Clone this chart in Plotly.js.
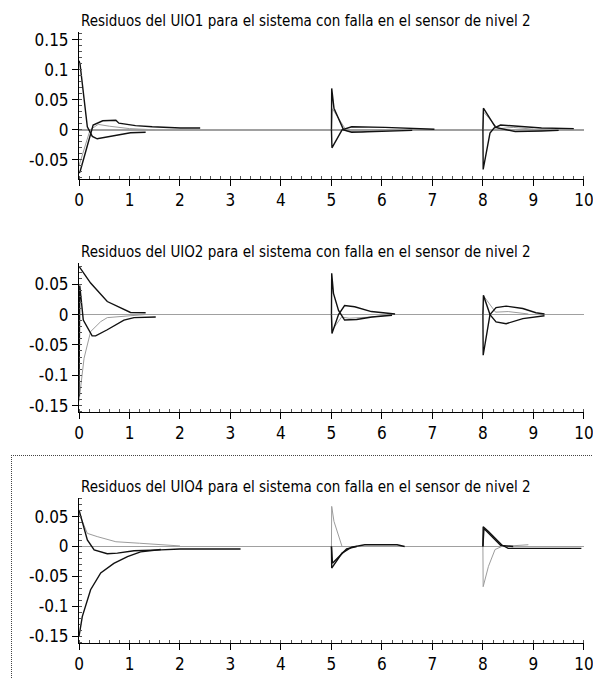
<!DOCTYPE html>
<html>
<head>
<meta charset="utf-8">
<script src="https://cdn.plot.ly/plotly-3.0.1.min.js"></script>
<style>
  html, body { margin: 0; padding: 0; background: #fff; overflow: hidden; }
  #chart { width: 593px; height: 679px; position: relative; }
  #focus { position: absolute; left: 11px; top: 455px; width: 700px; height: 400px;
           border-top: 1px dotted #444; border-left: 1px dotted #444; pointer-events: none; }
</style>
</head>
<body>
<div id="chart"></div>
<div id="focus"></div>
<script>
// ---- titles ----
const titles = [
  "Residuos del UIO1 para el sistema con falla en el sensor de nivel 2",
  "Residuos del UIO2 para el sistema con falla en el sensor de nivel 2",
  "Residuos del UIO4 para el sistema con falla en el sensor de nivel 2"
];

// ---- tick labels ----
const xTickVals = [0,1,2,3,4,5,6,7,8,9,10];
const xTickText = ["0","1","2","3","4","5","6","7","8","9","10"];
const y1TickVals = [0.15, 0.1, 0.05, 0, -0.05];
const y1TickText = ["0.15","0.1","0.05","0","-0.05"];
const y23TickVals = [0.05, 0, -0.05, -0.1, -0.15];
const y23TickText = ["0.05","0","-0.05","-0.1","-0.15"];

// ---- Panel 1 (UIO1) ----
const p1_blackA_t = [0,0.02,0.165,0.264,0.36,0.6,0.89,1.02,1.32, null, 5,5.005,5.05,5.24,5.4,5.93,6.6, null, 8,8.01,8.25,8.64,9.16,9.5];
const p1_blackA_y = [0.115,0.11,0.005,-0.011,-0.015,-0.011,-0.0066,-0.005,-0.004, null, 0,0.069,0.036,0,-0.004,-0.003,-0.001, null, 0,0.036,0.004,-0.003,-0.002,-0.001];
const p1_blackB_t = [0,0.02,0.28,0.47,0.73,0.79,1.12,1.45,2.01,2.4, null, 5,5.01,5.21,5.4,6.06,7.04, null, 8,8.005,8.14,8.22,8.35,8.77,9.16,9.8];
const p1_blackB_y = [-0.072,-0.07,0.008,0.015,0.016,0.011,0.007,0.005,0.003,0.003, null, 0,-0.03,0,0.005,0.004,0.001, null, 0,-0.066,-0.0055,0.003,0.008,0.006,0.003,0.002];
const p1_gray_t   = [0,0.22,0.38,0.6,1.0,1.5, null, 5,5.02,5.3,5.6,6.0, null, 8,8.01,8.3,8.6,9.0];
const p1_gray_y   = [-0.06,0.0,0.009,0.006,0.002,0, null, 0,0.035,-0.002,-0.004,0, null, 0,0.03,0.002,0.004,0.001];

// ---- Panel 2 (UIO2) ----
const p2_blackA_t = [0,0.23,0.56,0.89,1.02,1.32, null, 5,5.005,5.04,5.14,5.26,5.5,5.8,6.2, null, 8,8.01,8.14,8.26,8.46,8.79,9.22];
const p2_blackA_y = [0.0795,0.052,0.0215,0.0076,0.0035,0.003, null, 0,0.068,0.035,0.007,-0.009,-0.008,-0.004,-0.001, null, 0,0.032,0,-0.012,-0.015,-0.0066,-0.002];
const p2_blackB_t = [0,0.015,0.085,0.26,0.33,0.56,0.89,1.09,1.52, null, 5,5.01,5.14,5.26,5.46,5.79,6.26, null, 8,8.005,8.14,8.26,8.46,8.79,9.05,9.22];
const p2_blackB_y = [-0.135,0.048,-0.009,-0.035,-0.035,-0.025,-0.009,-0.005,-0.004, null, 0,-0.031,0,0.015,0.013,0.005,0.001, null, 0,-0.067,0,0.0116,0.014,0.01,0.003,0.001];
const p2_gray_t   = [0,0.1,0.23,0.43,0.56,1.0,1.3, null, 5,5.02,5.2,5.35,5.8,6.2, null, 8,8.02,8.25,8.5,8.9];
const p2_gray_y   = [-0.143,-0.072,-0.028,-0.0116,-0.005,-0.002,0, null, 0,-0.025,-0.004,-0.006,-0.004,0, null, 0,0.03,0.004,0.005,0.001];

// ---- Panel 3 (UIO4) ----
const p3_gray_t   = [0,0.165,0.36,0.73,1.2,1.62,2.0, null, 5,5.005,5.05,5.21,5.5, null, 8,8.005,8.11,8.24,8.37,8.9];
const p3_gray_y   = [0.0557,0.022,0.0166,0.008,0.0055,0.003,0.001, null, 0,0.067,0.042,0,0, null, 0,-0.067,-0.033,-0.005,0,0.003];
const p3_blackA_t = [0,0.165,0.3,0.56,0.76,1.09,1.62,2.0,3.2, null, 5,5.005,5.21,5.4,5.66,6.3,6.45, null, 8,8.005,8.11,8.37,8.5,9.95];
const p3_blackA_y = [0.061,0.011,-0.0055,-0.012,-0.011,-0.007,-0.0055,-0.004,-0.004, null, 0,-0.036,-0.011,-0.001,0.003,0.003,0, null, 0,0.033,0.025,0.003,-0.003,-0.003];
const p3_blackB_t = [0,0.065,0.23,0.43,0.69,0.96,1.22,1.62, null, 5,5.02,5.3,5.5, null, 8,8.02,8.35,8.6];
const p3_blackB_y = [-0.15,-0.117,-0.072,-0.044,-0.028,-0.0167,-0.009,-0.005, null, 0,-0.028,-0.004,0, null, 0,0.03,0.002,0];

const BLACK = '#111111', GRAY = '#9c9c9c';
const FONT = '"DejaVu Sans Condensed", "Liberation Sans Narrow", sans-serif';

function tr(x, y, color, w, ax) {
  return { x: x, y: y, mode: 'lines', type: 'scatter', connectgaps: false,
           line: { color: color, width: w }, xaxis: 'x' + ax, yaxis: 'y' + ax,
           hoverinfo: 'skip', showlegend: false };
}

const data = [
  tr(p1_gray_t, p1_gray_y, GRAY, 1, ''),
  tr(p1_blackA_t, p1_blackA_y, BLACK, 1.4, ''),
  tr(p1_blackB_t, p1_blackB_y, BLACK, 1.4, ''),
  tr(p2_gray_t, p2_gray_y, GRAY, 1, '2'),
  tr(p2_blackA_t, p2_blackA_y, BLACK, 1.4, '2'),
  tr(p2_blackB_t, p2_blackB_y, BLACK, 1.4, '2'),
  tr(p3_gray_t, p3_gray_y, GRAY, 1, '3'),
  tr(p3_blackA_t, p3_blackA_y, BLACK, 1.4, '3'),
  tr(p3_blackB_t, p3_blackB_y, BLACK, 1.4, '3')
];

function xax(anchor) {
  return { anchor: anchor, domain: [0, 1], range: [0, 10.002], tickmode: 'array',
           tickvals: xTickVals, ticktext: xTickText, ticks: 'outside', ticklen: 6,
           tickcolor: '#000', showline: true, linecolor: '#000', linewidth: 1,
           showgrid: false, zeroline: false, fixedrange: true,
           ticklabeloverflow: 'allow',
           tickfont: { family: FONT, size: 17, color: '#000' },
           minor: { dtick: 0.2, ticks: 'inside', ticklen: 3, tickcolor: '#555', showgrid: false } };
}
function yax(anchor, dom, rng, vals, text) {
  return { anchor: anchor, domain: dom, range: rng, tickmode: 'array',
           tickvals: vals, ticktext: text, ticks: 'outside', ticklen: 6,
           tickcolor: '#000', showline: true, linecolor: '#000', linewidth: 1,
           showgrid: false, zeroline: true, zerolinecolor: '#a0a0a0', zerolinewidth: 1.5,
           fixedrange: true,
           tickfont: { family: FONT, size: 17, color: '#000' },
           minor: { dtick: 0.01, ticks: 'inside', ticklen: 3, tickcolor: '#555', showgrid: false } };
}

const layout = {
  width: 593, height: 679,
  margin: { l: 79, r: 9, t: 32, b: 36 },
  paper_bgcolor: '#fff', plot_bgcolor: '#fff',
  showlegend: false,
  xaxis: xax('y'),
  yaxis: yax('x', [0.7594, 1], [-0.082, 0.163], y1TickVals, y1TickText),
  xaxis2: xax('y2'),
  yaxis2: yax('x2', [0.3786, 0.6219], [-0.16, 0.085], y23TickVals, y23TickText),
  xaxis3: xax('y3'),
  yaxis3: yax('x3', [0, 0.2373], [-0.161, 0.081], y23TickVals, y23TickText),
  annotations: [
    { text: titles[0], xref: 'paper', yref: 'paper', x: 0, y: 1.018, xanchor: 'left', yanchor: 'middle', showarrow: false, font: { family: FONT, size: 15, color: '#000' } },
    { text: titles[1], xref: 'paper', yref: 'paper', x: 0, y: 0.640, xanchor: 'left', yanchor: 'middle', showarrow: false, font: { family: FONT, size: 15, color: '#000' } },
    { text: titles[2], xref: 'paper', yref: 'paper', x: 0, y: 0.2553, xanchor: 'left', yanchor: 'middle', showarrow: false, font: { family: FONT, size: 15, color: '#000' } }
  ]
};

Plotly.newPlot('chart', data, layout, { staticPlot: true, displayModeBar: false });
</script>
</body>
</html>
